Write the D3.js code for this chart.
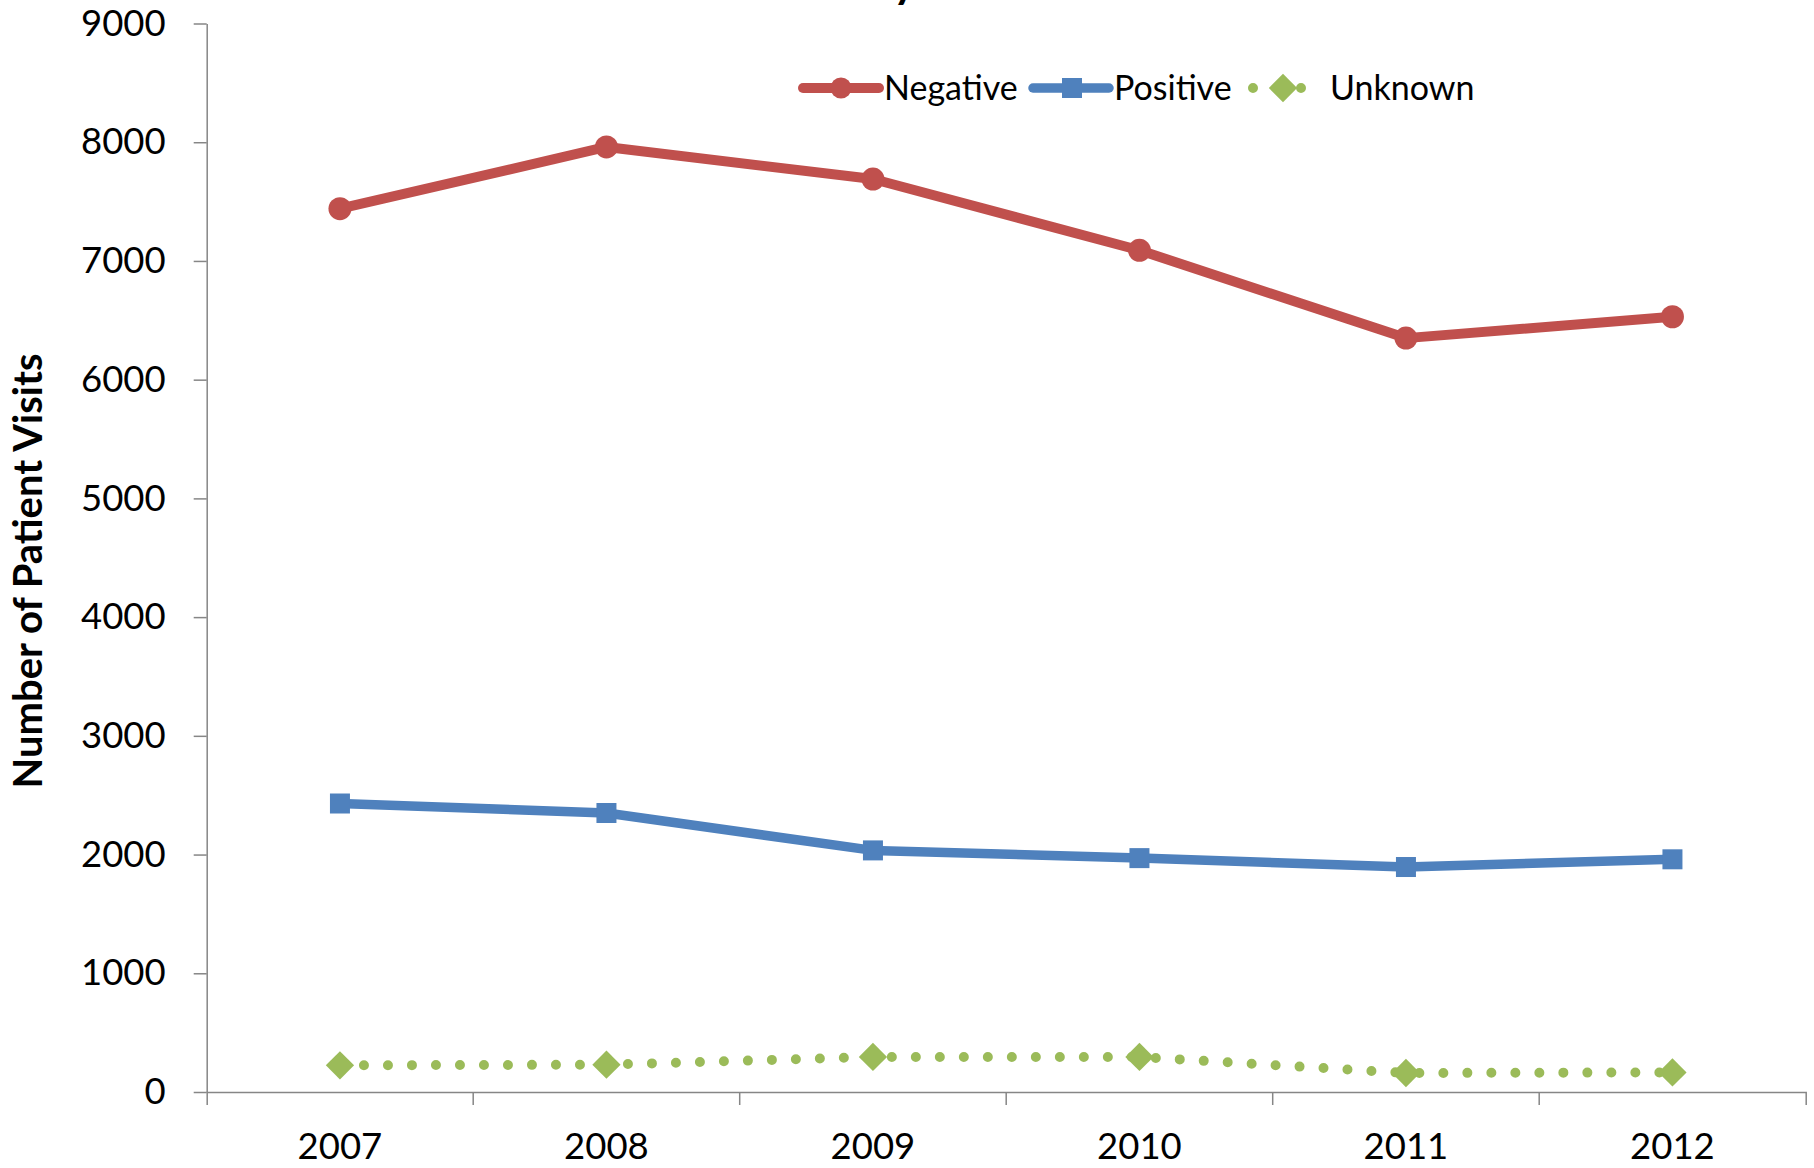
<!DOCTYPE html>
<html>
<head>
<meta charset="utf-8">
<script src="https://cdn.jsdelivr.net/npm/d3@7"></script>
<style>
  html, body { margin: 0; padding: 0; background: #fff; }
  svg { display: block; }
  text { font-family: Lato, "Open Sans", sans-serif; fill: #000; }
</style>
</head>
<body>
<svg id="chart" width="1814" height="1168"></svg>
<script>
// ---- data ----
const years = ["2007", "2008", "2009", "2010", "2011", "2012"];
const negative = [7440, 7960, 7690, 7090, 6350, 6530];
const positive = [2430, 2350, 2035, 1970, 1895, 1960];
const unknown = [225, 230, 295, 295, 160, 165];
const yTicks = [0, 1000, 2000, 3000, 4000, 5000, 6000, 7000, 8000, 9000];
const seriesNames = ["Negative", "Positive", "Unknown"];
const titleText = "Patient Visits by Year";
const yTitle = "Number of Patient Visits";

// ---- styles ----
const colors = { Negative: "#C0504D", Positive: "#4F81BD", Unknown: "#9BBB59" };
const axisColor = "#868686";

const svg = d3.select("#chart");
const plotLeft = 206.7, plotRight = 1805.7, plotTop = 23.5, plotBottom = 1092;

const x = d3.scaleBand().domain(years).range([plotLeft, plotRight]).padding(0);
const y = d3.scaleLinear().domain([0, 9000]).range([plotBottom, plotTop]);
const cx = d => x(d) + x.bandwidth() / 2;

// title (mostly above the visible area, as in the reference)
const title = svg.append("text")
  .attr("y", -2)
  .attr("font-size", 44)
  .attr("font-weight", "bold")
  .text(titleText);
(function () {
  const node = title.node();
  const idx = titleText.indexOf("by") + 1;
  const pre = node.getSubStringLength(0, idx);
  title.attr("x", 893 - pre);
})();

// y axis
const yAxis = svg.append("g")
  .attr("transform", `translate(${plotLeft},0)`)
  .call(d3.axisLeft(y).tickValues(yTicks).tickFormat(d3.format("d"))
    .tickSize(13).tickSizeOuter(0).tickPadding(28));
yAxis.select(".domain").attr("stroke", axisColor).attr("stroke-width", 1.5);
yAxis.selectAll(".tick line").attr("stroke", axisColor).attr("stroke-width", 1.5);
yAxis.selectAll(".tick text").attr("font-size", 36.5).attr("font-family", "Lato").attr("fill", "#000");

// x axis
const xAxis = svg.append("g")
  .attr("transform", `translate(0,${plotBottom})`)
  .call(d3.axisBottom(x).tickSizeInner(0).tickSizeOuter(13));
xAxis.select(".domain").attr("stroke", axisColor).attr("stroke-width", 1.5);
xAxis.selectAll(".tick line").remove();
xAxis.selectAll(".tick text")
  .attr("y", 67).attr("dy", 0)
  .attr("font-size", 36.5).attr("font-family", "Lato").attr("fill", "#000");
xAxis.selectAll(".boundary")
  .data(years.slice(1))
  .join("line")
  .attr("class", "boundary")
  .attr("x1", d => x(d)).attr("x2", d => x(d))
  .attr("y1", 0).attr("y2", 13)
  .attr("stroke", axisColor).attr("stroke-width", 1.5);

// y axis title
svg.append("text")
  .attr("transform", `translate(42,571) rotate(-90)`)
  .attr("text-anchor", "middle")
  .attr("font-size", 40)
  .attr("font-weight", "bold")
  .text(yTitle);

// lines
const line = d3.line().x(d => cx(d.year)).y(d => y(d.value));
const toPts = arr => years.map((yr, i) => ({ year: yr, value: arr[i] }));

// Unknown (dotted)
svg.append("path")
  .datum(toPts(unknown))
  .attr("d", line)
  .attr("fill", "none")
  .attr("stroke", colors.Unknown)
  .attr("stroke-width", 10)
  .attr("stroke-linecap", "round")
  .attr("stroke-dasharray", "0,24");
svg.selectAll(".unk")
  .data(toPts(unknown))
  .join("path")
  .attr("class", "unk")
  .attr("d", d3.symbol().type(d3.symbolSquare).size(400))
  .attr("transform", d => `translate(${cx(d.year)},${y(d.value)}) rotate(45)`)
  .attr("fill", colors.Unknown);

// Positive
svg.append("path")
  .datum(toPts(positive))
  .attr("d", line)
  .attr("fill", "none")
  .attr("stroke", colors.Positive)
  .attr("stroke-width", 9.5)
  .attr("stroke-linejoin", "round");
svg.selectAll(".pos")
  .data(toPts(positive))
  .join("rect")
  .attr("class", "pos")
  .attr("x", d => cx(d.year) - 10)
  .attr("y", d => y(d.value) - 10)
  .attr("width", 20).attr("height", 20)
  .attr("fill", colors.Positive);

// Negative
svg.append("path")
  .datum(toPts(negative))
  .attr("d", line)
  .attr("fill", "none")
  .attr("stroke", colors.Negative)
  .attr("stroke-width", 10)
  .attr("stroke-linejoin", "round");
svg.selectAll(".neg")
  .data(toPts(negative))
  .join("circle")
  .attr("class", "neg")
  .attr("cx", d => cx(d.year))
  .attr("cy", d => y(d.value))
  .attr("r", 11.5)
  .attr("fill", colors.Negative);

// legend
const lg = svg.append("g");
const ly = 88;
// Negative
lg.append("line").attr("x1", 803).attr("x2", 879).attr("y1", ly).attr("y2", ly)
  .attr("stroke", colors.Negative).attr("stroke-width", 10).attr("stroke-linecap", "round");
lg.append("circle").attr("cx", 841).attr("cy", ly).attr("r", 10.5).attr("fill", colors.Negative);
lg.append("text").attr("x", 884).attr("y", 100).attr("font-size", 34).text(seriesNames[0]);
// Positive
lg.append("line").attr("x1", 1033).attr("x2", 1109).attr("y1", ly).attr("y2", ly)
  .attr("stroke", colors.Positive).attr("stroke-width", 9.5).attr("stroke-linecap", "round");
lg.append("rect").attr("x", 1062).attr("y", ly - 10).attr("width", 20).attr("height", 20).attr("fill", colors.Positive);
lg.append("text").attr("x", 1114).attr("y", 100).attr("font-size", 34).text(seriesNames[1]);
// Unknown
lg.append("line").attr("x1", 1253).attr("x2", 1303).attr("y1", ly).attr("y2", ly)
  .attr("stroke", colors.Unknown).attr("stroke-width", 10).attr("stroke-linecap", "round")
  .attr("stroke-dasharray", "0,24");
lg.append("path").attr("d", d3.symbol().type(d3.symbolSquare).size(400))
  .attr("transform", `translate(1283,${ly}) rotate(45)`).attr("fill", colors.Unknown);
lg.append("text").attr("x", 1330).attr("y", 100).attr("font-size", 34).text(seriesNames[2]);
</script>
</body>
</html>
